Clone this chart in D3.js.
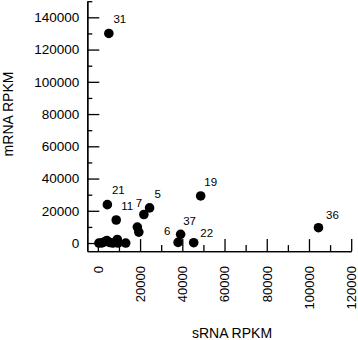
<!DOCTYPE html>
<html lang="en">
<head>
    <script src='https://d3js.org/d3.v7.min.js'></script>
</head>
<style>
body { margin: 0; background: #fff; }
text { font-family: "Liberation Sans", Arial, sans-serif; fill: #000; }
</style>
<body>
<script>
// Size of the picture
const width = 358; const height = 340;

// sRNA RPKM (x) and mRNA RPKM (y) for every transcript, plus its label ("" = none)
const sRNA  = [5200, 4500, 8700, 21800, 24500, 48700, 39200, 38000, 45400, 104500,
               18700, 19400, 500, 1900, 3300, 4300, 5700, 7100, 9200, 9500, 13200];
const mRNA  = [130000, 23800, 14300, 17700, 21800, 29200, 5400, 400, 200, 9500,
               9900, 6800, 0, 100, 900, 1500, 300, 0, 2200, 0, 0];
const names = ["31", "21", "11", "7", "5", "19", "37", "6", "22", "36",
               "", "", "", "", "", "", "", "", "", "", ""];

// ticks
const xMajor = [0, 20000, 40000, 60000, 80000, 100000, 120000];
const xMinor = [10000, 30000, 50000, 70000, 90000, 110000];
const yMajor = [0, 20000, 40000, 60000, 80000, 100000, 120000, 140000];
const yMinor = [10000, 30000, 50000, 70000, 90000, 110000, 130000, 150000];

const data = sRNA.map((v, i) => ({x: v, y: mRNA[i], name: names[i]}));

const svg = d3.select("body")
  .append("svg")
  .attr("width", width)
  .attr("height", height);

const x = d3.scaleLinear().domain([-5000, 120000]).range([87.3, 351.2]);
const y = d3.scaleLinear().domain([-5000, 150000]).range([251.1, 1.2]);

const axisY = x(-5000);
const axisX = y(-5000);

// y axis, ticks pointing into the plot
svg.append("g")
  .attr("transform", `translate(${axisY},0)`)
  .call(d3.axisLeft(y).tickValues(yMinor).tickSizeInner(-5).tickSizeOuter(0).tickFormat(""));
const gy = svg.append("g")
  .attr("transform", `translate(${axisY},0)`)
  .call(d3.axisLeft(y).tickValues(yMajor).tickSizeInner(-12).tickSizeOuter(0)
        .tickPadding(8).tickFormat(d3.format("d")));
gy.selectAll("text").style("font-size", "13.5px");

// x axis
svg.append("g")
  .attr("transform", `translate(0,${axisX})`)
  .call(d3.axisBottom(x).tickValues(xMinor).tickSizeInner(-6).tickSizeOuter(0).tickFormat(""));
const gx = svg.append("g")
  .attr("transform", `translate(0,${axisX})`)
  .call(d3.axisBottom(x).tickValues(xMajor).tickSizeInner(-12).tickSizeOuter(0)
        .tickFormat(d3.format("d")));
gx.selectAll("text")
  .attr("transform", "rotate(-90)")
  .attr("text-anchor", "end")
  .attr("x", -15)
  .attr("y", 0)
  .attr("dy", "0.33em")
  .style("font-size", "13px");

svg.selectAll(".domain, .tick line")
  .attr("stroke", "#000")
  .attr("stroke-width", 1.3);

// axis titles
svg.append("text")
  .attr("x", 232).attr("y", 338)
  .attr("text-anchor", "middle")
  .style("font-size", "14px")
  .text("sRNA RPKM");
svg.append("text")
  .attr("transform", "translate(13,114) rotate(-90)")
  .attr("text-anchor", "middle")
  .style("font-size", "14px")
  .text("mRNA RPKM");

// points
svg.selectAll("circle.pt")
  .data(data)
  .enter()
  .append("circle")
  .attr("class", "pt")
  .attr("cx", d => x(d.x))
  .attr("cy", d => y(d.y))
  .attr("r", 4.8)
  .attr("fill", "#000");

// where each label sits relative to its dot
const labelOffset = {
  "31": [11, -14], "19": [10, -14], "37": [9, -13], "22": [13, -10],
  "36": [14, -13], "5": [8, -14], "21": [11, -15], "11": [11, -14],
  "7": [-5, -12], "6": [-11, -11]
};

svg.selectAll("text.lbl")
  .data(data.filter(d => d.name !== ""))
  .enter()
  .append("text")
  .attr("class", "lbl")
  .attr("x", d => x(d.x) + labelOffset[d.name][0])
  .attr("y", d => y(d.y) + labelOffset[d.name][1])
  .attr("dy", "0.35em")
  .attr("text-anchor", "middle")
  .style("font-size", "11.5px")
  .text(d => d.name);
</script>
</body>
</html>
